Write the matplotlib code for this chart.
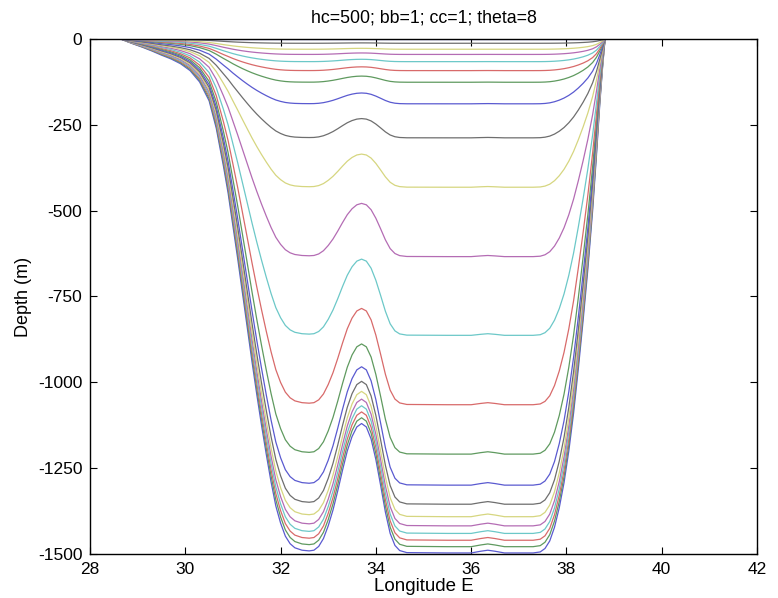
import numpy as np
import matplotlib.pyplot as plt

plt.rcParams['font.family'] = ['Liberation Sans', 'DejaVu Sans']
plt.rcParams['axes.unicode_minus'] = False

# bottom depth (m) along the section
lon = np.array([28.65, 28.75, 28.9, 29.1, 29.3, 29.5, 29.7, 29.9, 30.1, 30.3,
                30.5, 30.65, 30.8, 30.9, 31.0, 31.1, 31.2, 31.3, 31.4, 31.5,
                31.6, 31.7, 31.8, 31.9, 32.0, 32.1, 32.2, 32.3, 32.45, 32.6,
                32.7, 32.8, 32.9, 33.0, 33.1, 33.2, 33.3, 33.4, 33.5, 33.6,
                33.7, 33.8, 33.9, 34.0, 34.1, 34.2, 34.3, 34.4, 34.5, 34.65,
                35.5, 36.0, 36.2, 36.35, 36.5, 36.7, 37.3, 37.45, 37.55, 37.65,
                37.75, 37.85, 37.95, 38.05, 38.15, 38.25, 38.35, 38.45, 38.55, 38.63,
                38.7, 38.76, 38.81])
depth = np.array([0, 6, 14, 24, 35, 47, 58, 72, 92, 125,
                  180, 260, 370, 450, 545, 640, 740, 840, 940, 1035,
                  1125, 1210, 1290, 1360, 1410, 1448, 1470, 1482, 1489, 1491,
                  1489, 1478, 1455, 1418, 1372, 1316, 1256, 1200, 1158, 1130,
                  1120, 1130, 1165, 1225, 1300, 1378, 1440, 1475, 1490, 1496,
                  1497, 1497, 1492, 1489, 1492, 1497, 1497, 1494, 1484, 1462,
                  1422, 1365, 1292, 1200, 1090, 960, 820, 670, 500, 340,
                  190, 80, 0])

# s-coordinate levels (hc=500, theta=8, bb=1), surface to bottom
hc = 500
s_w = np.array([0.0, -0.032, -0.076, -0.111, -0.156, -0.202, -0.243, -0.310,
                -0.3810, -0.4286, -0.4762, -0.5238, -0.5714, -0.6190, -0.6667,
                -0.7143, -0.7619, -0.8095, -0.8571, -0.9048, -0.9524, -1.0])
Cs_w = np.array([0.0, -0.0004, -0.0012, -0.0030, -0.0067, -0.0146, -0.0311, -0.0647,
                 -0.1293, -0.2416, -0.4058, -0.5942, -0.7584, -0.8707, -0.9353,
                 -0.9689, -0.9854, -0.9933, -0.9970, -0.9988, -0.9996, -1.0])

colors = ['#5a5ad0', '#5f9a5f', '#d86a6a', '#6cc8c8', '#b46cb4', '#d6d680', '#6e6e6e']

fig = plt.figure(figsize=(7.78, 5.98), dpi=100)
ax = fig.add_axes([0.1157, 0.0736, 0.8573, 0.8612])

n = len(s_w)
for i, k in enumerate(range(n - 1, -1, -1)):
    z = depth * (hc * s_w[k] + depth * Cs_w[k]) / (hc + depth)
    ax.plot(lon, z, color=colors[i % 7], lw=0.9)

ax.set_xlim(28, 42)
ax.set_ylim(-1500, 0)
ax.set_xticks(np.arange(28, 43, 2))
ax.set_yticks(np.arange(-1500, 1, 250))
ax.tick_params(direction='in', top=True, right=True, length=5, labelsize=12.5, pad=5.5)
for sp in ax.spines.values():
    sp.set_linewidth(1.0)
ax.set_title('hc=500; bb=1; cc=1; theta=8', fontsize=12.8, pad=12)
ax.set_xlabel('Longitude E', fontsize=13.5, labelpad=1)
ax.set_ylabel('Depth (m)', fontsize=13, labelpad=4)

fig.savefig('out.png', dpi=100)
